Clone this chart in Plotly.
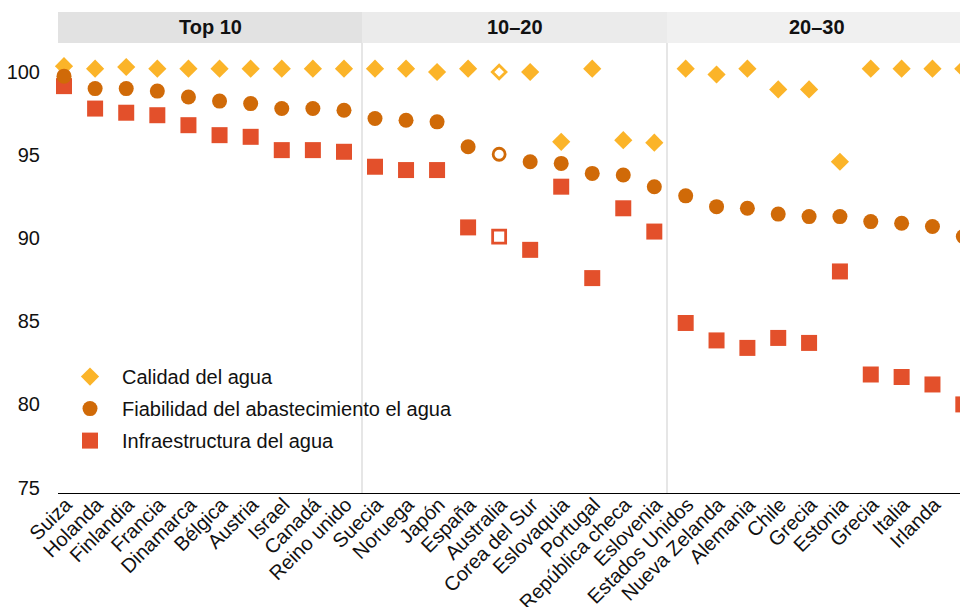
import plotly.graph_objects as go

# ---------------- data ----------------
paneles = ["Top 10", "10–20", "20–30"]

paises_top10 = ["Suiza", "Holanda", "Finlandia", "Francia", "Dinamarca", "Bélgica",
                "Austria", "Israel", "Canadá", "Reino unido"]
paises_10_20 = ["Suecia", "Noruega", "Japón", "España", "Australia", "Corea del Sur",
                "Eslovaquia", "Portugal", "República checa", "Eslovenia"]
paises_20_30 = ["Estados Unidos", "Nueva Zelanda", "Alemania", "Chile", "Grecia",
                "Estonia", "Grecia", "Italia", "Irlanda", "Chipre"]

calidad_top10 = [100.35, 100.2, 100.3, 100.2, 100.2, 100.2, 100.2, 100.2, 100.2, 100.2]
calidad_10_20 = [100.2, 100.2, 100.0, 100.2, 100.0, 100.0, 95.8, 100.2, 95.9, 95.75]
calidad_20_30 = [100.2, 99.85, 100.2, 98.95, 98.95, 94.6, 100.2, 100.2, 100.2, 100.2]

fiabilidad_top10 = [99.75, 99.0, 99.0, 98.85, 98.5, 98.25, 98.1, 97.8, 97.8, 97.7]
fiabilidad_10_20 = [97.2, 97.1, 97.0, 95.5, 95.05, 94.6, 94.5, 93.9, 93.8, 93.1]
fiabilidad_20_30 = [92.55, 91.9, 91.8, 91.45, 91.3, 91.3, 91.0, 90.9, 90.7, 90.1]

infra_top10 = [99.15, 97.8, 97.55, 97.4, 96.8, 96.2, 96.1, 95.3, 95.3, 95.2]
infra_10_20 = [94.3, 94.1, 94.1, 90.65, 90.1, 89.3, 93.1, 87.6, 91.8, 90.4]
infra_20_30 = [84.9, 83.85, 83.4, 84.0, 83.7, 88.0, 81.8, 81.65, 81.2, 80.0]

destacado = "Australia"   # hollow markers

y_ticks = [75, 80, 85, 90, 95, 100]

# ---------------- styles ----------------
paises = [paises_top10, paises_10_20, paises_20_30]
series = [
    # name, values per panel, symbol, color, size, hollow size, rank
    ("Infraestructura del agua", [infra_top10, infra_10_20, infra_20_30], "square", "#E3502B", 16, 13, 3),
    ("Calidad del agua", [calidad_top10, calidad_10_20, calidad_20_30], "diamond", "#FBB429", 14, 10.5, 1),
    ("Fiabilidad del abastecimiento el agua", [fiabilidad_top10, fiabilidad_10_20, fiabilidad_20_30], "circle", "#D06A08", 15, 12, 2),
]

# the page body has an 8px margin, so the figure is drawn 8px in from the window edge
W, H = 960, 599
ML, MR, MT, MB = 50, 0, 35, 114
PW = W - ML - MR
PH = H - MT - MB

dom_px = [(50, 354), (354, 659), (659, 960)]
domains = [[(a - ML) / PW, (b - ML) / PW] for a, b in dom_px]
ranges = [[-0.193, 9.579], [-0.419, 9.409], [-0.606, 9.152]]
header_cols = ["#E2E2E2", "#EBEBEB", "#F0F0F0"]
FONT = "Liberation Sans, Arial, Helvetica, sans-serif"
FS = 20

fig = go.Figure()

for name, vals, sym, col, size, hsize, rank in series:
    for p in range(3):
        xs = list(range(len(paises[p])))
        hollow = [c == destacado for c in paises[p]]
        fig.add_trace(go.Scatter(
            x=xs, y=vals[p], mode="markers",
            name=name, legendgroup=name, legendrank=rank,
            showlegend=(p == 0),
            xaxis="x" if p == 0 else f"x{p+1}",
            yaxis="y" if p == 0 else f"y{p+1}",
            cliponaxis=False,
            hovertext=paises[p],
            marker=dict(
                symbol=[sym + "-open" if h else sym for h in hollow],
                size=[hsize if h else size for h in hollow],
                color=col, opacity=1,
                line=dict(width=[2.8 if h else 0 for h in hollow], color=col),
            ),
        ))

layout = dict(
    width=W, height=H,
    margin=dict(l=ML, r=MR, t=MT, b=MB, pad=0, autoexpand=False),
    plot_bgcolor="white", paper_bgcolor="white",
    font=dict(family=FONT, size=FS, color="#111111"),
    showlegend=True,
    legend=dict(x=0, xanchor="left", y=0.302, yanchor="top",
                bgcolor="rgba(0,0,0,0)", itemwidth=54, tracegroupgap=3,
                font=dict(size=FS, color="#111111")),
)

for p in range(3):
    sx = "" if p == 0 else str(p + 1)
    layout["xaxis" + sx] = dict(
        domain=domains[p], range=ranges[p], anchor="y" + sx, automargin=False,
        tickmode="array", tickvals=list(range(len(paises[p]))), ticktext=paises[p],
        tickangle=-45, ticks="", showgrid=False, zeroline=False,
        showline=True, linecolor="#000000", linewidth=1,
        ticklabelstandoff=-9, ticklabelshift=2,
        tickfont=dict(size=FS, color="#111111"),
    )
    ydict = dict(
        range=[74.67, 101.745], anchor="x" + sx, showgrid=False, zeroline=False,
        showline=False, ticks="", automargin=False,
    )
    if p == 0:
        ydict.update(tickmode="array", tickvals=y_ticks, ticktext=[str(v) for v in y_ticks],
                     ticklabelstandoff=17, tickfont=dict(size=FS, color="#111111"))
    else:
        ydict.update(matches="y", showticklabels=False)
    layout["yaxis" + sx] = ydict

fig.update_layout(**layout)

hdr_top = 1 + 31 / PH
for p in range(3):
    fig.add_shape(type="rect", xref="paper", yref="paper",
                  x0=domains[p][0], x1=domains[p][1], y0=1, y1=hdr_top,
                  fillcolor=header_cols[p], line=dict(width=0), layer="below")
    fig.add_annotation(text=f"<b>{paneles[p]}</b>", xref="paper", yref="paper",
                       x=(domains[p][0] + domains[p][1]) / 2, y=(1 + hdr_top) / 2,
                       showarrow=False, xanchor="center", yanchor="middle",
                       font=dict(size=FS, color="#111111"))
for p in (1, 2):
    fig.add_shape(type="line", xref="paper", yref="paper",
                  x0=domains[p][0], x1=domains[p][0], y0=0, y1=1,
                  line=dict(color="#E6E6E6", width=2), layer="below")

fig.write_html("out.html")
